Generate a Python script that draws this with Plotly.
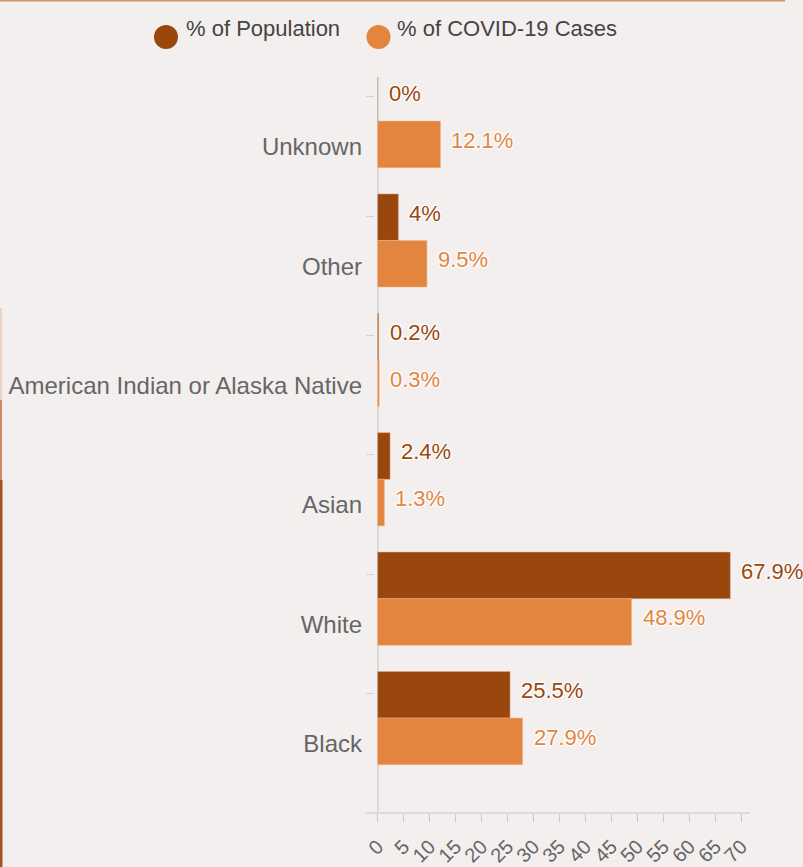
import plotly.graph_objects as go

categories = ["Black", "White", "Asian", "American Indian or Alaska Native", "Other", "Unknown"]
pop_pct = [25.5, 67.9, 2.4, 0.2, 4, 0]
case_pct = [27.9, 48.9, 1.3, 0.3, 9.5, 12.1]
x_ticks = list(range(0, 75, 5))
series_names = ["% of Population", "% of COVID-19 Cases"]

DARK = "#9A470E"
ORANGE = "#E3853F"
BG = "#F3EFEE"
TXT = "#666666"
FONT = "Liberation Sans, Arial, sans-serif"

W, H = 803, 867
L, R, T, B = 375, 54, 77, 54
pw, ph = W - L - R, H - T - B
band = 119.4


def px_x(p):
    return (p - L) / pw


def px_y(p):
    return (H - B - p) / ph


idx = list(range(len(categories)))
bw = 0.39
halo = "1px 1px 1px #fff, -1px -1px 1px #fff, 1px -1px 1px #fff, -1px 1px 1px #fff"

fig = go.Figure()
series = [
    (pop_pct, 0.49, DARK, "#D9A88A"),
    (case_pct, 0.10, ORANGE, "#F0B48A"),
]
annotations = []
for vals, off, col, edge in series:
    ys = [i + off for i in idx]
    fig.add_trace(go.Bar(
        x=vals, y=ys, orientation="h", width=bw,
        marker=dict(color=col, line=dict(color=edge, width=0.5)),
        showlegend=False, hoverinfo="skip"))
    for v, yv in zip(vals, ys):
        annotations.append(dict(x=v, y=yv, xref="x", yref="y", text=f"{v:g}%",
                                xanchor="left", yanchor="middle", showarrow=False,
                                xshift=9, yshift=4,
                                font=dict(color=col, size=22, family=FONT, shadow=halo)))

# invisible trace for secondary y axis (tick marks at band boundaries)
fig.add_trace(go.Scatter(x=[None], y=[None], yaxis="y2", showlegend=False, hoverinfo="skip"))

yr = [-0.5, -0.5 + ph / band]

shapes = [
    # x axis line (extends a little left of the plot)
    dict(type="line", xref="paper", yref="paper", x0=px_x(367), x1=px_x(750), y0=0, y1=0,
         line=dict(color="#DADADA", width=2)),
    # top orange rule
    dict(type="line", xref="paper", yref="paper", x0=px_x(0), x1=px_x(785), y0=px_y(0.5), y1=px_y(0.5),
         line=dict(color="#D2946C", width=2)),
    # left border
    dict(type="line", xref="paper", yref="paper", x0=px_x(1), x1=px_x(1), y0=px_y(308), y1=px_y(400),
         line=dict(color="#EAD3C3", width=2)),
    dict(type="line", xref="paper", yref="paper", x0=px_x(1), x1=px_x(1), y0=px_y(400), y1=px_y(480),
         line=dict(color="#C98B5F", width=2)),
    dict(type="line", xref="paper", yref="paper", x0=px_x(1), x1=px_x(1), y0=px_y(480), y1=px_y(867),
         line=dict(color="#A5521C", width=3)),
]
legend_pos = [(166, 184), (378.5, 395)]
for (cx, tx), name, col in zip(legend_pos, series_names, [DARK, ORANGE]):
    shapes.append(dict(type="circle", xref="paper", yref="paper",
                       x0=px_x(cx - 12), x1=px_x(cx + 12), y0=px_y(49), y1=px_y(25),
                       fillcolor=col, line=dict(width=0)))
    annotations.append(dict(xref="paper", yref="paper", x=px_x(tx), y=px_y(28),
                            xanchor="left", yanchor="middle", showarrow=False, text=name,
                            font=dict(size=22, color="#444444", family=FONT)))

fig.update_layout(
    width=W, height=H,
    paper_bgcolor=BG, plot_bgcolor=BG,
    margin=dict(l=L, r=R, t=T, b=B, autoexpand=False),
    barmode="overlay",
    showlegend=False,
    font=dict(family=FONT, color=TXT, size=20),
    xaxis=dict(range=[-0.5, 71.5], tickvals=x_ticks, ticktext=[str(v) for v in x_ticks],
               tickangle=-45, ticks="outside", ticklen=8, tickcolor="#C8C8C8",
               showgrid=False, zeroline=True, zerolinecolor="#DADADA", zerolinewidth=2,
               showline=False, ticklabelstandoff=5,
               tickfont=dict(size=20, color=TXT, family=FONT), automargin=False, fixedrange=True),
    yaxis=dict(range=yr, tickvals=[i + 0.08 for i in idx], ticktext=categories,
               ticks="", showgrid=False, zeroline=False, showline=False,
               tickfont=dict(size=24, color=TXT, family=FONT), automargin=False, ticklabelstandoff=12),
    yaxis2=dict(range=yr, overlaying="y", side="left", tickvals=[i - 0.5 for i in range(len(categories) + 1)],
                showticklabels=False, ticks="outside", ticklen=8, tickcolor="#D0D0D0",
                showgrid=False, zeroline=False, showline=False),
    shapes=shapes,
    annotations=annotations,
)

fig.write_html("out.html", config={"displayModeBar": False},
               post_script="document.body.style.margin='0px';")
